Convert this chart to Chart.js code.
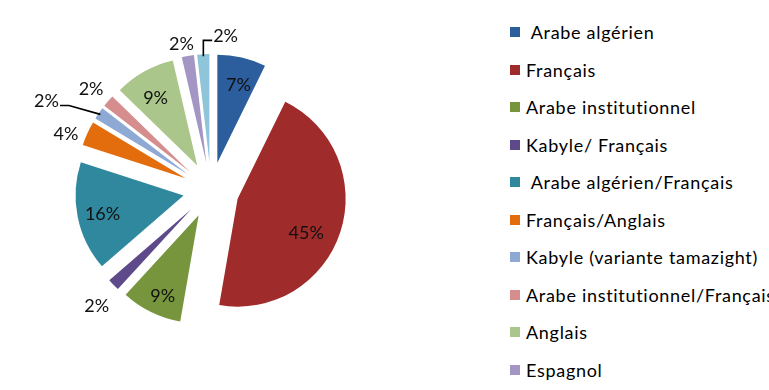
<!DOCTYPE html>
<html>
<head>
<meta charset="utf-8">
<script src="https://cdn.jsdelivr.net/npm/chart.js@4.4.1/dist/chart.umd.min.js"></script>
<style>
  html, body { margin: 0; padding: 0; background: #fff; overflow: hidden; }
  body { width: 769px; height: 390px; position: relative; font-family: Lato, "Open Sans", sans-serif; }
  #pieBox { position: absolute; left: 0; top: 0; width: 422px; height: 390px; }
  #legend { position: absolute; left: 510px; top: 0; width: 259px; height: 390px; overflow: hidden; white-space: nowrap; }
  .item { position: absolute; left: 0; height: 20px; line-height: 20px; font-size: 18px; letter-spacing: 0.7px; color: #000; white-space: pre; }
  .box { position: absolute; left: 0; top: 5px; width: 10px; height: 10px; }
  .txt { position: absolute; left: 16px; top: 0; }
</style>
</head>
<body>
<div id="pieBox"><canvas id="pie"></canvas></div>
<div id="legend"></div>

<script>
const languages = [
  ' Arabe algérien',
  'Français',
  'Arabe institutionnel',
  'Kabyle/ Français',
  ' Arabe algérien/Français',
  'Français/Anglais',
  'Kabyle (variante tamazight)',
  'Arabe institutionnel/Français',
  'Anglais',
  'Espagnol',
  'Autres'
];
// respondents per language (55 in all), the labels show the rounded share
const counts = [4, 25, 5, 1, 9, 2, 1, 1, 5, 1, 1];
const sliceColors = [
  '#2C5D9C', '#A02B2B', '#77953D', '#5E4A8A', '#2F889E', '#E36C0C',
  '#8FA9D5', '#D58E8D', '#AAC68A', '#A396C4', '#8EC5D9'
];

// where each percent label sits: distance = explode + radius * k, plus an angle nudge (degrees)
const labelK = [0.74, 0.71, 0.82, 1.25, 0.77, 1.18, 1.47, 1.19, 0.73, 1.12, 1.17];
const labelNudge = [1.7, 6.5, -1.7, -1.3, -1.3, -3.5, -6.1, -0.9, -1.8, -1.6, 8.7];
const leaders = { 6: 'left', 10: 'up' };

const explode = 28;
const total = counts.reduce((a, b) => a + b, 0);

// Chart.js' own offset also grows the radius, so push every slice out by the same distance instead
class ExplodedArc extends Chart.ArcElement {
  draw(ctx) {
    const { startAngle, endAngle } = this.getProps(['startAngle', 'endAngle']);
    const mid = (startAngle + endAngle) / 2;
    ctx.save();
    ctx.translate(Math.cos(mid) * explode, Math.sin(mid) * explode);
    super.draw(ctx);
    ctx.restore();
  }
}
ExplodedArc.id = 'explodedArc';

class ExplodedPie extends Chart.PieController {}
ExplodedPie.id = 'explodedPie';
ExplodedPie.defaults = { dataElementType: 'explodedArc' };

Chart.register(ExplodedArc, ExplodedPie);

const labelsPlugin = {
  id: 'pctLabels',
  afterDatasetsDraw(chart) {
    const ctx = chart.ctx;
    const meta = chart.getDatasetMeta(0);
    ctx.save();
    ctx.font = '18px Lato, "Open Sans", sans-serif';
    ctx.fillStyle = '#111';
    ctx.textAlign = 'center';
    ctx.textBaseline = 'middle';
    meta.data.forEach((arc, i) => {
      const p = arc.getProps(['x', 'y', 'startAngle', 'endAngle', 'outerRadius'], true);
      const mid = (p.startAngle + p.endAngle) / 2;
      const ang = mid + labelNudge[i] * Math.PI / 180;
      const d = explode + p.outerRadius * labelK[i];
      const lx = p.x + Math.cos(ang) * d;
      const ly = p.y + Math.sin(ang) * d;
      const text = Math.round(counts[i] / total * 100) + '%';
      ctx.fillText(text, lx, ly);

      if (leaders[i]) {
        const w = ctx.measureText(text).width;
        const er = explode + p.outerRadius - 2;
        const sx = p.x + Math.cos(mid) * er;
        const sy = p.y + Math.sin(mid) * er;
        ctx.beginPath();
        ctx.strokeStyle = '#000';
        ctx.lineWidth = 1.6;
        ctx.moveTo(sx, sy);
        if (leaders[i] === 'left') {
          ctx.lineTo(lx + w / 2 + 10, ly + 4);
          ctx.lineTo(lx + w / 2 + 1, ly + 4);
        } else {
          ctx.lineTo(sx, ly + 4);
          ctx.lineTo(lx - w / 2 - 1, ly + 4);
        }
        ctx.stroke();
      }
    });
    ctx.restore();
  }
};

new Chart(document.getElementById('pie'), {
  type: 'explodedPie',
  data: {
    labels: languages,
    datasets: [{
      data: counts,
      backgroundColor: sliceColors,
      borderWidth: 0
    }]
  },
  options: {
    responsive: true,
    maintainAspectRatio: false,
    animation: false,
    events: [],
    radius: 108,
    layout: { padding: { bottom: 10 } },
    plugins: {
      legend: { display: false },
      tooltip: { enabled: false }
    }
  },
  plugins: [labelsPlugin]
});

// legend on the right, same order as the slices
const legendEl = document.getElementById('legend');
languages.forEach((name, i) => {
  const item = document.createElement('div');
  item.className = 'item';
  item.style.top = (22 + i * 37.5) + 'px';
  const box = document.createElement('span');
  box.className = 'box';
  box.style.background = sliceColors[i];
  const txt = document.createElement('span');
  txt.className = 'txt';
  txt.textContent = name;
  item.appendChild(box);
  item.appendChild(txt);
  legendEl.appendChild(item);
});
</script>
</body>
</html>
